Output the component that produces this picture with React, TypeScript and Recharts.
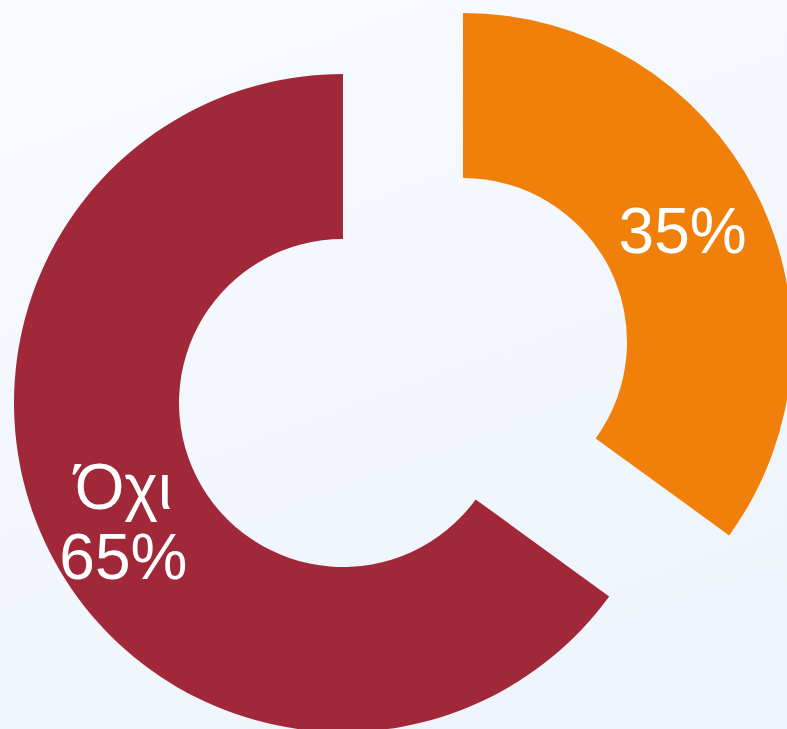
import React from "react";
import { PieChart, Pie, Cell } from "recharts";

const categories = ["Ναι", "Όχι"];
const shownNames = ["", "Όχι"];
const values = [35, 65];
const colors = ["#F0800A", "#A12838"];

const data = categories.map((c, i) => ({ name: c, label: shownNames[i], value: values[i] }));

const RADIAN = Math.PI / 180;
const FONT = "'Liberation Sans', Arial, Helvetica, sans-serif";

const makeLabel = (visibleIndex: number) => (props: any) => {
  const { cx, cy, midAngle, innerRadius, outerRadius, index, percent } = props;
  if (index !== visibleIndex) return null;
  const r = (innerRadius + outerRadius) / 2;
  const x = cx + r * Math.cos(-midAngle * RADIAN);
  const y = cy + r * Math.sin(-midAngle * RADIAN);
  const pct = `${Math.round(percent * 100)}%`;
  const name = data[index].label;
  if (!name) {
    return (
      <text x={x} y={y + 23} fill="#ffffff" textAnchor="middle" fontSize={64} fontFamily={FONT}>
        {pct}
      </text>
    );
  }
  return (
    <text x={x} y={y} fill="#ffffff" textAnchor="middle" fontSize={64} fontFamily={FONT}>
      <tspan x={x} dy={-6}>{name}</tspan>
      <tspan x={x} dy={70}>{pct}</tspan>
    </text>
  );
};

export default function App() {
  return (
    <div
      style={{
        position: "absolute",
        left: 0,
        top: 0,
        width: 787,
        height: 729,
        overflow: "hidden",
        background: "linear-gradient(160deg, #F8FBFE 0%, #F3F7FD 50%, #EEF4FC 100%)",
      }}
    >
      <PieChart width={787} height={729} margin={{ top: 0, right: 0, bottom: 0, left: 0 }}>
        <Pie
          data={data}
          dataKey="value"
          nameKey="name"
          cx={463}
          cy={342}
          innerRadius={164}
          outerRadius={329}
          startAngle={90}
          endAngle={-270}
          stroke="none"
          labelLine={false}
          label={makeLabel(0)}
          isAnimationActive={false}
        >
          {data.map((d, i) => (
            <Cell key={d.name} fill={i === 0 ? colors[i] : "transparent"} />
          ))}
        </Pie>
        <Pie
          data={data}
          dataKey="value"
          nameKey="name"
          cx={343}
          cy={403}
          innerRadius={164}
          outerRadius={329}
          startAngle={90}
          endAngle={-270}
          stroke="none"
          labelLine={false}
          label={makeLabel(1)}
          isAnimationActive={false}
        >
          {data.map((d, i) => (
            <Cell key={d.name} fill={i === 1 ? colors[i] : "transparent"} />
          ))}
        </Pie>
      </PieChart>
    </div>
  );
}
